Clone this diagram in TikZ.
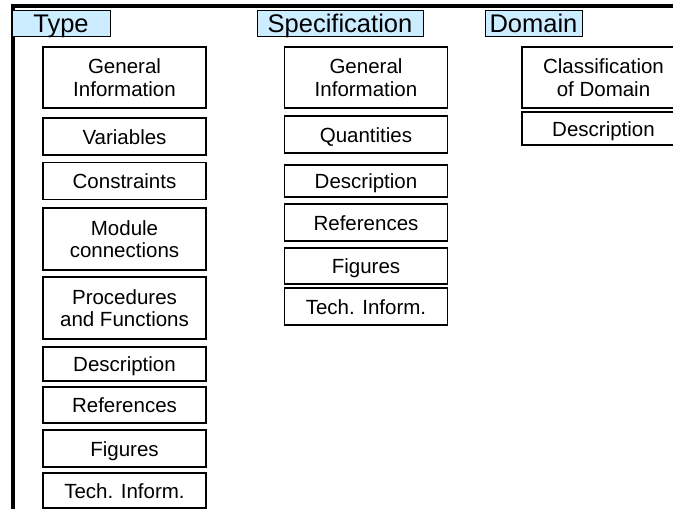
\documentclass[tikz,border=0pt]{standalone}
\usepackage{fontspec}
\setmainfont{Liberation Sans}
\definecolor{headblue}{RGB}{204,236,255}
\tikzset{
  field/.style={draw, line width=1.2pt, minimum width=163pt, inner sep=0pt, align=center,
    font=\fontsize{20.5}{22.5}\selectfont},
  oneline/.style={text height=15pt, text depth=0pt},
  colhead/.style={draw, fill=headblue, line width=1pt, inner sep=0pt, minimum height=26pt,
    text height=20pt, text depth=2pt, font=\fontsize{25.5}{27}\selectfont}
}
\begin{document}
\begin{tikzpicture}[x=1pt,y=-1pt]
                \useasboundingbox (0,0) rectangle (673,509);
                \draw[line width=3.5pt] (13,509) -- (13,6) -- (673,6);

                \node[colhead, minimum width=98pt] (type) at (61,23) {Type};
                \node[colhead, minimum width=166pt] (spec) at (340,23) {Specification};
                \node[colhead, minimum width=97pt] (dom) at (533.5,23) {Domain};

                \node[field, minimum height=61pt] (tgen) at (124.5,77.5) {General\\Information};
                \node[field, oneline, minimum height=37pt] (tvar) at (124.5,136.5) {Variables};
                \node[field, oneline, minimum height=37pt] (tcon) at (124.5,181) {Constraints};
                \node[field, minimum height=62pt] (tmod) at (124.5,239) {Module\\connections};
                \node[field, minimum height=62pt] (tproc) at (124.5,308) {Procedures\\and Functions};
                \node[field, oneline, minimum height=34pt] (tdesc) at (124.5,364) {Description};
                \node[field, oneline, minimum height=36pt] (tref) at (124.5,405) {References};
                \node[field, oneline, minimum height=37pt] (tfig) at (124.5,448.5) {Figures};
                \node[field, oneline, minimum height=35pt] (ttech) at (124.5,490.5) {Tech. Inform.};

                \node[field, minimum height=61pt] (sgen) at (366,77.5) {General\\Information};
                \node[field, oneline, minimum height=37pt] (squa) at (366,134.5) {Quantities};
                \node[field, oneline, minimum height=32pt] (sdesc) at (366,181) {Description};
                \node[field, oneline, minimum height=37pt] (sref) at (366,222.5) {References};
                \node[field, oneline, minimum height=36pt] (sfig) at (366,266) {Figures};
                \node[field, oneline, minimum height=37pt] (stech) at (366,306.5) {Tech. Inform.};

                \node[field, minimum height=61pt] (dcls) at (603.5,77.5) {Classification\\of Domain};
                \node[field, oneline, minimum height=33pt] (ddesc) at (603.5,128.5) {Description};
            \end{tikzpicture}
\end{document}
